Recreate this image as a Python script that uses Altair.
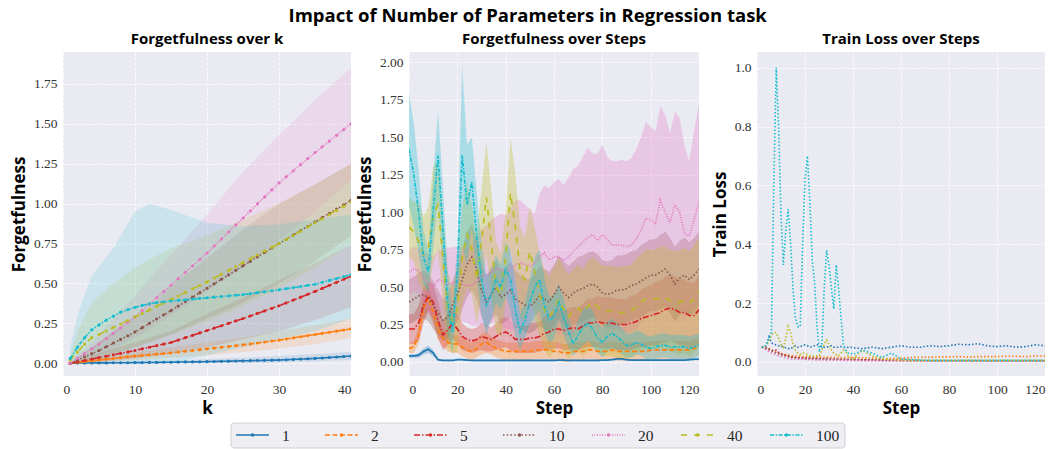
import altair as alt
import pandas as pd

SERIES = ["1", "2", "5", "10", "20", "40", "100"]
COLORS = ["#1f77b4", "#ff7f0e", "#d62728", "#8c564b", "#e377c2", "#bcbd22", "#17becf"]
DASHES = [[1, 0], [5, 2.5], [6, 2, 1.5, 2], [1.5, 2.2], [1, 1.5], [6, 7], [4, 1.5, 1.5, 1.5]]

# ---------------- Panel 1: Forgetfulness over k ----------------
K = list(range(1, 41))
K_MEAN = {
    "1": [0.000, 0.001, 0.001, 0.002, 0.002, 0.002, 0.003, 0.003, 0.003, 0.004,
          0.004, 0.005, 0.005, 0.006, 0.006, 0.007, 0.008, 0.008, 0.009, 0.010,
          0.011, 0.012, 0.013, 0.014, 0.015, 0.016, 0.017, 0.018, 0.019, 0.020,
          0.022, 0.024, 0.026, 0.028, 0.030, 0.033, 0.036, 0.039, 0.042, 0.045],
    "2": [0.000, 0.005, 0.010, 0.015, 0.020, 0.025, 0.030, 0.035, 0.040, 0.045,
          0.049, 0.053, 0.057, 0.061, 0.065, 0.070, 0.075, 0.080, 0.085, 0.090,
          0.095, 0.100, 0.105, 0.110, 0.115, 0.121, 0.127, 0.133, 0.139, 0.145,
          0.152, 0.159, 0.166, 0.173, 0.180, 0.187, 0.194, 0.201, 0.208, 0.215],
    "5": [0.000, 0.008, 0.017, 0.026, 0.035, 0.044, 0.053, 0.062, 0.071, 0.080,
          0.090, 0.100, 0.110, 0.120, 0.130, 0.145, 0.160, 0.175, 0.190, 0.205,
          0.220, 0.235, 0.250, 0.265, 0.280, 0.296, 0.312, 0.328, 0.344, 0.360,
          0.378, 0.396, 0.414, 0.432, 0.450, 0.469, 0.488, 0.507, 0.526, 0.545],
    "10": [0.000, 0.020, 0.040, 0.060, 0.080, 0.103, 0.126, 0.149, 0.172, 0.196,
           0.223, 0.250, 0.277, 0.304, 0.330, 0.358, 0.386, 0.414, 0.442, 0.470,
           0.498, 0.526, 0.554, 0.582, 0.610, 0.638, 0.666, 0.694, 0.722, 0.750,
           0.777, 0.804, 0.831, 0.858, 0.885, 0.912, 0.939, 0.966, 0.993, 1.020],
    "20": [0.000, 0.030, 0.060, 0.090, 0.120, 0.154, 0.188, 0.222, 0.256, 0.290,
           0.330, 0.370, 0.410, 0.450, 0.490, 0.530, 0.570, 0.610, 0.650, 0.690,
           0.734, 0.778, 0.822, 0.866, 0.910, 0.954, 0.998, 1.042, 1.086, 1.130,
           1.168, 1.206, 1.244, 1.282, 1.320, 1.356, 1.392, 1.428, 1.464, 1.500],
    "40": [0.020, 0.070, 0.120, 0.160, 0.180, 0.202, 0.224, 0.246, 0.268, 0.290,
           0.312, 0.334, 0.356, 0.378, 0.400, 0.422, 0.444, 0.466, 0.488, 0.510,
           0.534, 0.558, 0.582, 0.606, 0.630, 0.654, 0.678, 0.702, 0.726, 0.750,
           0.776, 0.802, 0.828, 0.854, 0.880, 0.906, 0.932, 0.958, 0.984, 1.010],
    "100": [0.030, 0.100, 0.160, 0.210, 0.240, 0.270, 0.295, 0.320, 0.335, 0.350,
            0.362, 0.372, 0.380, 0.385, 0.390, 0.394, 0.398, 0.402, 0.406, 0.410,
            0.414, 0.418, 0.422, 0.426, 0.430, 0.436, 0.442, 0.448, 0.454, 0.460,
            0.467, 0.474, 0.481, 0.488, 0.495, 0.507, 0.519, 0.531, 0.543, 0.555],
}
K_BAND = [1, 2, 4, 7, 10, 12, 15, 20, 25, 30, 35, 40]
K_LO = {
    "1": [0, 0, 0, 0, 0, 0, 0, 0, 0, 0.005, 0.012, 0.02],
    "2": [0, 0, 0.005, 0.012, 0.02, 0.025, 0.035, 0.05, 0.07, 0.09, 0.12, 0.16],
    "5": [0, 0, 0.005, 0.015, 0.03, 0.04, 0.06, 0.10, 0.15, 0.20, 0.27, 0.35],
    "10": [0, 0, 0.02, 0.06, 0.10, 0.13, 0.18, 0.28, 0.38, 0.50, 0.64, 0.80],
    "20": [0, 0.01, 0.03, 0.09, 0.16, 0.21, 0.30, 0.45, 0.60, 0.77, 0.95, 1.15],
    "40": [0, 0, 0.02, 0.06, 0.10, 0.13, 0.18, 0.26, 0.36, 0.47, 0.60, 0.75],
    "100": [0, 0, 0, 0, 0, 0, 0, 0.05, 0.10, 0.15, 0.20, 0.28],
}
K_HI = {
    "1": [0, 0.002, 0.004, 0.007, 0.01, 0.012, 0.016, 0.025, 0.035, 0.045, 0.058, 0.07],
    "2": [0, 0.01, 0.025, 0.05, 0.07, 0.08, 0.10, 0.13, 0.16, 0.20, 0.24, 0.28],
    "5": [0, 0.02, 0.05, 0.09, 0.13, 0.16, 0.20, 0.31, 0.41, 0.52, 0.63, 0.74],
    "10": [0, 0.04, 0.10, 0.20, 0.29, 0.35, 0.48, 0.66, 0.84, 1.00, 1.12, 1.25],
    "20": [0, 0.05, 0.13, 0.28, 0.42, 0.53, 0.68, 0.93, 1.20, 1.43, 1.65, 1.85],
    "40": [0.05, 0.20, 0.38, 0.50, 0.60, 0.65, 0.72, 0.80, 0.90, 1.00, 1.12, 1.25],
    "100": [0.10, 0.30, 0.55, 0.72, 0.95, 1.00, 0.96, 0.88, 0.86, 0.87, 0.90, 0.93],
}

# ---------------- Panel 2: Forgetfulness over Steps ----------------
STEPS = list(range(0, 121, 2))
S_MEAN = {
    "1": [0.040, 0.040, 0.045, 0.070, 0.085, 0.060, 0.015, 0.010, 0.010, 0.010,
          0.015, 0.015, 0.012, 0.010, 0.010, 0.010, 0.010, 0.010, 0.010, 0.010,
          0.010, 0.010, 0.010, 0.010, 0.010, 0.010, 0.010, 0.010, 0.010, 0.010,
          0.010, 0.012, 0.012, 0.010, 0.010, 0.010, 0.010, 0.010, 0.010, 0.010,
          0.012, 0.012, 0.015, 0.020, 0.020, 0.015, 0.012, 0.012, 0.012, 0.012,
          0.012, 0.012, 0.012, 0.012, 0.012, 0.012, 0.012, 0.012, 0.015, 0.018, 0.018],
    "2": [0.09, 0.10, 0.18, 0.36, 0.43, 0.33, 0.22, 0.16, 0.13, 0.12,
          0.12, 0.10, 0.08, 0.07, 0.09, 0.12, 0.13, 0.11, 0.09, 0.08,
          0.07, 0.07, 0.07, 0.07, 0.07, 0.07, 0.08, 0.08, 0.08, 0.08,
          0.07, 0.07, 0.06, 0.06, 0.07, 0.07, 0.07, 0.08, 0.08, 0.07,
          0.07, 0.07, 0.08, 0.07, 0.07, 0.07, 0.07, 0.07, 0.07, 0.07,
          0.08, 0.08, 0.08, 0.08, 0.08, 0.08, 0.08, 0.08, 0.08, 0.09, 0.10],
    "5": [0.22, 0.22, 0.26, 0.38, 0.44, 0.40, 0.28, 0.18, 0.21, 0.26,
          0.22, 0.17, 0.15, 0.14, 0.15, 0.17, 0.16, 0.15, 0.17, 0.19,
          0.20, 0.18, 0.15, 0.15, 0.15, 0.16, 0.16, 0.17, 0.19, 0.20,
          0.22, 0.22, 0.21, 0.22, 0.23, 0.22, 0.24, 0.26, 0.26, 0.27,
          0.26, 0.26, 0.26, 0.25, 0.25, 0.25, 0.26, 0.27, 0.29, 0.30,
          0.31, 0.32, 0.33, 0.35, 0.36, 0.35, 0.33, 0.33, 0.31, 0.31, 0.35],
    "10": [0.40, 0.42, 0.44, 0.45, 0.43, 0.38, 0.33, 0.28, 0.30, 0.38,
           0.45, 0.55, 0.65, 0.70, 0.62, 0.48, 0.40, 0.45, 0.50, 0.43,
           0.45, 0.48, 0.42, 0.40, 0.38, 0.37, 0.40, 0.44, 0.42, 0.40,
           0.45, 0.50, 0.46, 0.43, 0.46, 0.48, 0.49, 0.51, 0.52, 0.50,
           0.46, 0.45, 0.46, 0.48, 0.48, 0.49, 0.51, 0.52, 0.54, 0.56,
           0.58, 0.58, 0.60, 0.62, 0.58, 0.52, 0.56, 0.58, 0.55, 0.58, 0.62],
    "20": [0.60, 0.62, 0.61, 0.56, 0.52, 0.50, 0.55, 0.54, 0.52, 0.53,
           0.53, 0.52, 0.51, 0.51, 0.54, 0.57, 0.58, 0.60, 0.62, 0.62,
           0.60, 0.62, 0.65, 0.66, 0.65, 0.64, 0.66, 0.70, 0.73, 0.68,
           0.70, 0.70, 0.68, 0.70, 0.74, 0.77, 0.80, 0.83, 0.85, 0.81,
           0.85, 0.82, 0.78, 0.78, 0.78, 0.77, 0.78, 0.82, 0.88, 0.96,
           0.95, 0.92, 1.08, 1.00, 0.93, 1.05, 1.00, 0.86, 0.84, 0.95, 1.07],
    "40": [0.90, 0.87, 0.80, 0.72, 0.76, 0.98, 1.05, 0.70, 0.35, 0.28,
           0.35, 0.70, 0.85, 0.75, 0.55, 0.80, 1.10, 0.80, 0.50, 0.45,
           0.70, 1.13, 0.90, 0.60, 0.55, 0.74, 0.60, 0.45, 0.35, 0.30,
           0.35, 0.42, 0.35, 0.30, 0.34, 0.36, 0.33, 0.37, 0.40, 0.37,
           0.34, 0.34, 0.34, 0.33, 0.33, 0.33, 0.34, 0.37, 0.40, 0.42,
           0.42, 0.42, 0.43, 0.43, 0.41, 0.40, 0.40, 0.41, 0.39, 0.42, 0.47],
    "100": [1.42, 1.25, 1.00, 0.70, 0.60, 1.00, 1.38, 0.90, 0.40, 0.20,
            0.60, 1.38, 1.05, 1.20, 0.85, 0.55, 0.38, 0.45, 0.55, 0.50,
            0.62, 0.55, 0.35, 0.20, 0.28, 0.40, 0.50, 0.55, 0.38, 0.28,
            0.30, 0.40, 0.30, 0.20, 0.12, 0.18, 0.23, 0.26, 0.22, 0.16,
            0.13, 0.17, 0.19, 0.17, 0.14, 0.11, 0.11, 0.13, 0.12, 0.10,
            0.09, 0.10, 0.11, 0.11, 0.10, 0.10, 0.10, 0.10, 0.09, 0.10, 0.11],
}
S_W = {
    "1": [0.012, 0.012, 0.015, 0.020, 0.025, 0.020, 0.008, 0.005, 0.005, 0.005,
          0.005, 0.005, 0.005, 0.005, 0.005, 0.005, 0.005, 0.005, 0.005, 0.005,
          0.005, 0.005, 0.005, 0.005, 0.005, 0.005, 0.005, 0.005, 0.005, 0.005,
          0.005, 0.005, 0.005, 0.005, 0.005, 0.005, 0.005, 0.005, 0.005, 0.005,
          0.005, 0.005, 0.006, 0.008, 0.008, 0.006, 0.005, 0.005, 0.005, 0.005,
          0.005, 0.005, 0.005, 0.005, 0.005, 0.005, 0.005, 0.005, 0.006, 0.006, 0.006],
    "2": [0.03, 0.04, 0.06, 0.08, 0.08, 0.08, 0.07, 0.06, 0.06, 0.06,
          0.06, 0.06, 0.06, 0.06, 0.06, 0.07, 0.07, 0.06, 0.06, 0.06,
          0.06, 0.06, 0.06, 0.06, 0.06, 0.06, 0.06, 0.06, 0.06, 0.06,
          0.06, 0.06, 0.06, 0.06, 0.06, 0.06, 0.06, 0.06, 0.06, 0.06,
          0.06, 0.06, 0.06, 0.06, 0.06, 0.06, 0.06, 0.06, 0.06, 0.06,
          0.06, 0.06, 0.06, 0.06, 0.06, 0.06, 0.06, 0.06, 0.06, 0.06, 0.06],
    "5": [0.10, 0.10, 0.12, 0.12, 0.10, 0.12, 0.12, 0.10, 0.10, 0.10,
          0.10, 0.09, 0.08, 0.08, 0.08, 0.09, 0.09, 0.08, 0.09, 0.10,
          0.10, 0.10, 0.09, 0.09, 0.09, 0.10, 0.10, 0.10, 0.11, 0.12,
          0.13, 0.13, 0.13, 0.14, 0.14, 0.14, 0.15, 0.16, 0.16, 0.17,
          0.17, 0.17, 0.17, 0.17, 0.17, 0.17, 0.18, 0.18, 0.19, 0.20,
          0.20, 0.21, 0.21, 0.22, 0.22, 0.22, 0.22, 0.22, 0.22, 0.22, 0.23],
    "10": [0.15, 0.15, 0.15, 0.16, 0.16, 0.16, 0.15, 0.14, 0.15, 0.16,
           0.18, 0.20, 0.22, 0.22, 0.20, 0.18, 0.17, 0.18, 0.18, 0.18,
           0.18, 0.19, 0.19, 0.18, 0.18, 0.18, 0.19, 0.20, 0.20, 0.20,
           0.20, 0.21, 0.21, 0.21, 0.21, 0.22, 0.22, 0.22, 0.22, 0.22,
           0.22, 0.22, 0.22, 0.23, 0.23, 0.23, 0.23, 0.23, 0.24, 0.24,
           0.24, 0.24, 0.25, 0.25, 0.25, 0.25, 0.25, 0.25, 0.25, 0.25, 0.25],
    "20": [0.15, 0.15, 0.15, 0.18, 0.20, 0.20, 0.20, 0.22, 0.24, 0.24,
           0.24, 0.25, 0.25, 0.27, 0.30, 0.32, 0.33, 0.35, 0.35, 0.37,
           0.38, 0.40, 0.43, 0.42, 0.40, 0.38, 0.33, 0.42, 0.45, 0.48,
           0.50, 0.52, 0.50, 0.53, 0.55, 0.54, 0.57, 0.60, 0.54, 0.58,
           0.60, 0.55, 0.56, 0.56, 0.57, 0.57, 0.58, 0.60, 0.62, 0.64,
           0.62, 0.62, 0.63, 0.65, 0.60, 0.62, 0.63, 0.58, 0.50, 0.60, 0.65],
    "40": [0.20, 0.20, 0.27, 0.25, 0.28, 0.32, 0.30, 0.30, 0.25, 0.22,
           0.28, 0.33, 0.35, 0.30, 0.30, 0.35, 0.37, 0.35, 0.30, 0.28,
           0.30, 0.37, 0.35, 0.30, 0.28, 0.30, 0.30, 0.28, 0.27, 0.27,
           0.28, 0.28, 0.28, 0.28, 0.28, 0.29, 0.29, 0.30, 0.30, 0.30,
           0.30, 0.30, 0.30, 0.30, 0.31, 0.31, 0.31, 0.32, 0.32, 0.33,
           0.33, 0.33, 0.34, 0.34, 0.34, 0.34, 0.35, 0.35, 0.35, 0.36, 0.36],
    "100": [0.38, 0.34, 0.28, 0.18, 0.14, 0.24, 0.30, 0.28, 0.22, 0.14,
            0.20, 0.60, 0.40, 0.30, 0.28, 0.24, 0.20, 0.16, 0.16, 0.15,
            0.18, 0.20, 0.18, 0.12, 0.12, 0.15, 0.20, 0.20, 0.18, 0.15,
            0.15, 0.12, 0.12, 0.10, 0.08, 0.10, 0.12, 0.12, 0.12, 0.10,
            0.10, 0.10, 0.10, 0.09, 0.09, 0.08, 0.08, 0.08, 0.08, 0.08,
            0.08, 0.08, 0.08, 0.08, 0.08, 0.08, 0.08, 0.08, 0.08, 0.08, 0.08],
}

# ---------------- Panel 3: Train Loss over Steps ----------------
LOSS_STEPS = list(range(2, 41)) + list(range(44, 121, 4))
LOSS = {
    "1": [0.050, 0.050, 0.055, 0.085, 0.065, 0.060, 0.058, 0.055, 0.055, 0.050,
          0.048, 0.045, 0.045, 0.050, 0.055, 0.050, 0.052, 0.055, 0.058, 0.055,
          0.050, 0.052, 0.055, 0.058, 0.055, 0.052, 0.050, 0.050, 0.052, 0.055,
          0.050, 0.050, 0.050, 0.052, 0.050, 0.048, 0.050, 0.050, 0.048,
          0.045, 0.050, 0.045, 0.050, 0.055, 0.050, 0.050, 0.055, 0.052, 0.055,
          0.060, 0.058, 0.062, 0.055, 0.052, 0.055, 0.050, 0.052, 0.058, 0.055],
    "2": [0.050, 0.050, 0.048, 0.045, 0.040, 0.036, 0.033, 0.030, 0.028, 0.026,
          0.025, 0.024, 0.022, 0.021, 0.020, 0.020, 0.019, 0.018, 0.018, 0.018,
          0.018, 0.017, 0.017, 0.017, 0.017, 0.016, 0.016, 0.016, 0.016, 0.016,
          0.016, 0.015, 0.015, 0.015, 0.015, 0.015, 0.015, 0.015, 0.015,
          0.014, 0.013, 0.012, 0.011, 0.012, 0.015, 0.016, 0.016, 0.017, 0.017,
          0.018, 0.017, 0.018, 0.018, 0.018, 0.019, 0.019, 0.018, 0.020, 0.020],
    "5": [0.050, 0.048, 0.046, 0.043, 0.040, 0.037, 0.040, 0.032, 0.028, 0.025,
          0.022, 0.020, 0.018, 0.016, 0.015, 0.014, 0.013, 0.013, 0.012, 0.012,
          0.012, 0.011, 0.011, 0.011, 0.010, 0.010, 0.010, 0.010, 0.010, 0.009,
          0.009, 0.009, 0.009, 0.009, 0.008, 0.008, 0.008, 0.008, 0.008,
          0.007, 0.006, 0.006, 0.005, 0.005, 0.004, 0.004, 0.004, 0.004, 0.004,
          0.004, 0.003, 0.003, 0.003, 0.003, 0.003, 0.003, 0.003, 0.003, 0.003],
    "10": [0.050, 0.048, 0.045, 0.042, 0.038, 0.034, 0.031, 0.028, 0.025, 0.022,
           0.020, 0.018, 0.017, 0.016, 0.015, 0.014, 0.013, 0.013, 0.012, 0.012,
           0.012, 0.012, 0.011, 0.011, 0.011, 0.011, 0.010, 0.011, 0.010, 0.010,
           0.010, 0.009, 0.009, 0.009, 0.009, 0.008, 0.008, 0.008, 0.008,
           0.007, 0.007, 0.006, 0.006, 0.005, 0.005, 0.005, 0.004, 0.004, 0.004,
           0.004, 0.004, 0.004, 0.003, 0.003, 0.003, 0.003, 0.003, 0.003, 0.003],
    "20": [0.050, 0.045, 0.040, 0.035, 0.030, 0.027, 0.024, 0.021, 0.018, 0.016,
           0.014, 0.012, 0.011, 0.010, 0.010, 0.009, 0.009, 0.009, 0.008, 0.008,
           0.008, 0.008, 0.007, 0.007, 0.007, 0.007, 0.006, 0.006, 0.006, 0.006,
           0.006, 0.006, 0.005, 0.005, 0.005, 0.005, 0.005, 0.005, 0.005,
           0.004, 0.004, 0.003, 0.003, 0.003, 0.003, 0.002, 0.002, 0.002, 0.002,
           0.002, 0.002, 0.002, 0.002, 0.002, 0.002, 0.002, 0.002, 0.002, 0.002],
    "40": [0.050, 0.050, 0.060, 0.070, 0.090, 0.100, 0.100, 0.080, 0.060, 0.050,
           0.080, 0.120, 0.100, 0.060, 0.040, 0.030, 0.025, 0.030, 0.030, 0.025,
           0.020, 0.020, 0.020, 0.020, 0.020, 0.040, 0.060, 0.075, 0.060, 0.040,
           0.030, 0.025, 0.020, 0.030, 0.040, 0.035, 0.020, 0.015, 0.010,
           0.040, 0.020, 0.010, 0.008, 0.006, 0.005, 0.005, 0.005, 0.005, 0.005,
           0.005, 0.005, 0.005, 0.005, 0.005, 0.005, 0.005, 0.005, 0.005, 0.005],
    "100": [0.050, 0.050, 0.060, 0.080, 0.100, 0.600, 1.000, 0.800, 0.500, 0.330,
            0.450, 0.520, 0.400, 0.250, 0.150, 0.120, 0.120, 0.400, 0.620, 0.700,
            0.550, 0.350, 0.270, 0.120, 0.040, 0.050, 0.250, 0.380, 0.330, 0.250,
            0.180, 0.330, 0.250, 0.150, 0.060, 0.040, 0.030, 0.030, 0.025,
            0.040, 0.030, 0.015, 0.030, 0.010, 0.008, 0.006, 0.005, 0.005, 0.005,
            0.005, 0.005, 0.005, 0.005, 0.005, 0.005, 0.005, 0.005, 0.005, 0.005],
}

TITLE = "Impact of Number of Parameters in Regression task"
SANS = "Open Sans"

# ---------------- tables ----------------
k_line = pd.DataFrame([{"k": k, "series": s, "value": v}
                       for s in SERIES for k, v in zip(K, K_MEAN[s])])
k_band = pd.DataFrame([{"k": k, "series": s, "lo": lo, "hi": hi}
                       for s in SERIES for k, lo, hi in zip(K_BAND, K_LO[s], K_HI[s])])
s_rows = []
for s in SERIES:
    for st, m, w in zip(STEPS, S_MEAN[s], S_W[s]):
        s_rows.append({"step": st, "series": s, "value": m, "lo": m - w, "hi": m + w})
s_df = pd.DataFrame(s_rows)
loss_df = pd.DataFrame([{"step": st, "series": s, "value": v}
                        for s in SERIES for st, v in zip(LOSS_STEPS, LOSS[s])])
legend_df = pd.DataFrame({"series": SERIES})
frame_df = pd.DataFrame({"first": [SERIES[0]], "last": [SERIES[-1]]})

W, H = 288, 324


def c_enc():
    return alt.Color("series:N", scale=alt.Scale(domain=SERIES, range=COLORS), legend=None)


def d_enc():
    return alt.StrokeDash("series:N", scale=alt.Scale(domain=SERIES, range=DASHES), legend=None)


def sub_title(text):
    return alt.TitleParams(text, font=SANS, fontSize=15, fontWeight="bold",
                           color="black", offset=5)


# Panel 1
x1 = alt.X("k:Q", scale=alt.Scale(domain=[0, 40], nice=False),
           axis=alt.Axis(values=[0, 10, 20, 30, 40], format="d", title="k"))
y1_scale = alt.Scale(domain=[-0.08, 1.95], nice=False)
y1_axis = alt.Axis(values=[0, 0.25, 0.5, 0.75, 1.0, 1.25, 1.5, 1.75], format=".2f",
                   title="Forgetfulness")
band1 = alt.Chart(k_band).mark_area(opacity=0.15, clip=True).encode(
    x=x1, y=alt.Y("lo:Q", scale=y1_scale, axis=y1_axis), y2="hi:Q",
    color=c_enc(), detail="series:N",
)
line1 = alt.Chart(k_line).mark_line(strokeWidth=1.6, clip=True).encode(
    x=x1, y=alt.Y("value:Q", scale=y1_scale, axis=y1_axis),
    color=c_enc(), strokeDash=d_enc(),
)
pts1 = alt.Chart(k_line).mark_circle(size=10, opacity=1, clip=True).encode(
    x=x1, y=alt.Y("value:Q", scale=y1_scale, axis=y1_axis), color=c_enc(),
)
p1 = alt.layer(band1, line1, pts1).properties(width=W, height=H,
                                             title=sub_title("Forgetfulness over k"))

# Panel 2
x2 = alt.X("step:Q", scale=alt.Scale(domain=[0, 120], nice=False),
           axis=alt.Axis(values=[0, 20, 40, 60, 80, 100, 120], format="d", title="Step"))
y2_scale = alt.Scale(domain=[-0.094, 2.07], nice=False)
y2_axis = alt.Axis(values=[0, 0.25, 0.5, 0.75, 1.0, 1.25, 1.5, 1.75, 2.0], format=".2f",
                   title="Forgetfulness")
band2 = alt.Chart(s_df).mark_area(opacity=0.3, clip=True).encode(
    x=x2, y=alt.Y("lo:Q", scale=y2_scale, axis=y2_axis), y2="hi:Q",
    color=c_enc(), detail="series:N",
)
line2 = alt.Chart(s_df).mark_line(strokeWidth=1.7, clip=True).encode(
    x=x2, y=alt.Y("value:Q", scale=y2_scale, axis=y2_axis),
    color=c_enc(), strokeDash=d_enc(),
)
p2_data = alt.layer(band2, line2)

# Shared legend, drawn below the middle panel (entry positions from a point scale)
LEG_Y = 383
leg_scale = alt.Scale(type="point", domain=SERIES, range=[-173, 361], padding=0)
leg_x = alt.X("series:N", scale=leg_scale, axis=None)
leg_x_first = alt.X("first:N", scale=leg_scale, axis=None)
leg_frame = alt.Chart(frame_df).mark_rect(
    fill="#EFEFF3", stroke="#D0D0D0", strokeWidth=1, cornerRadius=3,
    xOffset=-5, x2Offset=75,
).encode(x=leg_x_first, x2="last:N", y=alt.value(LEG_Y - 12), y2=alt.value(LEG_Y + 13))
leg_lines = alt.Chart(legend_df).mark_rule(strokeWidth=1.7, x2Offset=33).encode(
    x=leg_x, x2="series:N", y=alt.value(LEG_Y), color=c_enc(), strokeDash=d_enc(),
)
leg_dots = alt.Chart(legend_df).mark_circle(size=12, opacity=1, xOffset=16.5).encode(
    x=leg_x, y=alt.value(LEG_Y), color=c_enc(),
)
leg_text = alt.Chart(legend_df).mark_text(
    align="left", baseline="middle", dx=46, dy=1, font="Liberation Serif", fontSize=15.5,
    color="#262626",
).encode(x=leg_x, y=alt.value(LEG_Y), text="series:N")
leg = alt.layer(leg_frame, leg_lines, leg_dots, leg_text)

p2 = alt.layer(p2_data, leg).resolve_scale(x="independent").properties(
    width=290, height=H, title=sub_title("Forgetfulness over Steps"))

# Panel 3
y3_scale = alt.Scale(domain=[-0.048, 1.054], nice=False)
y3_axis = alt.Axis(values=[0, 0.2, 0.4, 0.6, 0.8, 1.0], format=".1f", title="Train Loss")
line3 = alt.Chart(loss_df).mark_line(strokeWidth=1.6, strokeDash=[1.5, 2], clip=True).encode(
    x=x2, y=alt.Y("value:Q", scale=y3_scale, axis=y3_axis), color=c_enc(),
)
p3 = line3.properties(width=W, height=H, title=sub_title("Train Loss over Steps"))

chart = alt.hconcat(p1, p2, p3, spacing=58, bounds="flush").properties(
    title=alt.TitleParams(TITLE, font=SANS, fontSize=18.5, fontWeight="bold",
                          color="black", anchor="middle", frame="bounds", offset=7),
    padding={"left": 10, "top": 6, "right": 2, "bottom": 0},
    background="white",
).configure_view(
    fill="#EAEAF2", stroke=None,
).configure_axis(
    grid=True, gridColor="white", gridDash=[3, 2], gridWidth=0.8,
    domain=False, ticks=False,
    labelFont="Liberation Serif", labelFontSize=13.5, labelColor="#333333",
    labelPadding=6,
    titleFont=SANS, titleFontSize=17, titleFontWeight="bold", titleColor="black",
    titlePadding=5,
)

chart.save("out.html", embed_options={"renderer": "svg", "actions": False})
